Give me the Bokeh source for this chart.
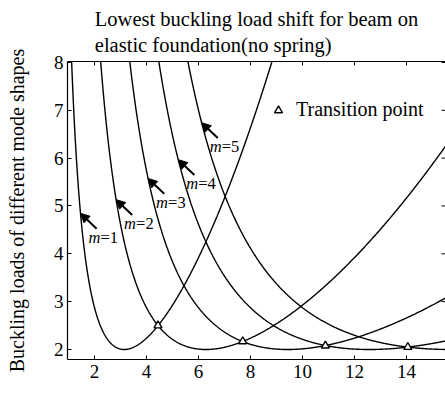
import numpy as np
from bokeh.plotting import figure
from bokeh.models import (Range1d, LinearAxis, FixedTicker, Arrow, NormalHead,
                          Label, ColumnDataSource)
from bokeh.core.properties import value
from bokeh.embed import file_html
from bokeh.resources import INLINE

# ---- data -------------------------------------------------------------
modes = [1, 2, 3, 4, 5]                      # buckling mode numbers m
transition_L = [4.44, 7.70, 10.88, 14.05]    # beam length where lowest mode switches
transition_P = [2.50, 2.17, 2.08, 2.05]      # load at the switch
arrow_L = [1.46, 2.83, 4.06, 5.22, 6.12]     # where each mode label points
x_ticks = [2, 4, 6, 8, 10, 12, 14]
y_ticks = [2, 3, 4, 5, 6, 7, 8]

FONT = "Liberation Serif"
X0, X1 = 0.96, 15.5
Y0, Y1 = 1.791, 8.02


def load(m, L):
    """Nondimensional buckling load of mode m on an elastic foundation."""
    k = m * np.pi
    return (k / L) ** 2 + (L / k) ** 2


L = np.linspace(X0, X1, 800)

p = figure(width=445, height=411,
           x_range=Range1d(X0, X1), y_range=Range1d(Y0, Y1),
           output_backend="svg", toolbar_location=None,
           min_border_left=67, min_border_right=0,
           min_border_top=61, min_border_bottom=52,
           background_fill_color="white", border_fill_color="white")

p.title.text = "Lowest buckling load shift for beam on\nelastic foundation(no spring)"
p.title.align = "center"
p.title.text_font = FONT
p.title.text_font_size = "20.5px"
p.title.text_font_style = "normal"
p.title.text_color = "black"
p.title.text_line_height = 1.2
p.title.standoff = 10

p.grid.visible = False
p.outline_line_color = None

# ---- curves -------------------------------------------------------------
for m in modes:
    p.line(L, load(m, L), line_color="black", line_width=1.4)

p.scatter(transition_L, transition_P, marker="triangle", size=8,
          fill_color="white", line_color="black", line_width=1.4,
          legend_label="Transition point")

# inward tick marks on the top and right edges (half of each dash is clipped)
p.scatter(x_ticks, [Y1] * len(x_ticks), marker="dash", angle=np.pi / 2,
          size=8, line_color="black", line_width=1)
p.scatter([X1] * len(y_ticks), y_ticks, marker="dash",
          size=8, line_color="black", line_width=1)

# ---- mode annotations -------------------------------------------------------
tip_x = np.array(arrow_L)
tip_y = np.array([load(m, x) for m, x in zip(modes, arrow_L)])
arrows = ColumnDataSource(dict(x0=tip_x + 0.62, y0=tip_y - 0.32,
                               x1=tip_x, y1=tip_y))
p.add_layout(Arrow(source=arrows, x_start="x0", y_start="y0",
                   x_end="x1", y_end="y1", line_width=2, line_color="black",
                   end=NormalHead(size=9, fill_color="black",
                                  line_color="black", line_width=1)))

p.text(x=tip_x, y=tip_y, text=["m"] * len(modes), x_offset=8, y_offset=24,
       text_font=value(FONT), text_font_style="italic", text_font_size="16.5px",
       text_align="left", text_baseline="middle", text_color="black")
p.text(x=tip_x, y=tip_y, text=["=%d" % m for m in modes], x_offset=20, y_offset=24,
       text_font=value(FONT), text_font_size="16.5px",
       text_align="left", text_baseline="middle", text_color="black")

# ---- axes -------------------------------------------------------------------
def style_axis(ax, ticks):
    ax.ticker = FixedTicker(ticks=ticks)
    ax.major_tick_in = 4
    ax.major_tick_out = 0
    ax.minor_tick_line_color = None
    ax.major_tick_line_color = "black"
    ax.axis_line_color = "black"
    ax.axis_line_width = 1.2
    ax.major_label_text_font = FONT
    ax.major_label_text_color = "black"
    ax.major_label_text_font_size = "19px"


style_axis(p.xaxis[0], x_ticks)
p.xaxis[0].major_label_standoff = 5
style_axis(p.yaxis[0], y_ticks)
p.yaxis[0].major_label_standoff = 4
p.yaxis[0].axis_label = "Buckling loads of different mode shapes"
p.yaxis[0].axis_label_text_font = FONT
p.yaxis[0].axis_label_text_font_size = "20px"
p.yaxis[0].axis_label_text_font_style = "normal"
p.yaxis[0].axis_label_text_color = "black"
p.yaxis[0].axis_label_standoff = 23

# top border line
top = LinearAxis(ticker=FixedTicker(ticks=[]))
top.axis_line_color = "black"
top.axis_line_width = 1.2
top.major_tick_line_color = None
top.minor_tick_line_color = None
p.add_layout(top, "above")

# x axis title with italic L
p.add_layout(Label(x=130, y=-37, x_units="screen", y_units="screen",
                   text="Beam length", text_font=FONT, text_font_size="20px",
                   text_color="black", text_baseline="middle"))
p.add_layout(Label(x=238, y=-37, x_units="screen", y_units="screen",
                   text="L", text_font=FONT, text_font_size="20px",
                   text_font_style="italic", text_color="black",
                   text_baseline="middle"))

# ---- legend -----------------------------------------------------------------
lg = p.legend[0]
lg.location = (201, 238)
lg.border_line_color = None
lg.background_fill_color = "white"
lg.padding = 5
lg.glyph_width = 20
lg.label_standoff = 8
lg.label_text_font = FONT
lg.label_text_font_size = "20px"
lg.label_text_color = "black"

open("out.html", "w").write(file_html(p, INLINE))
